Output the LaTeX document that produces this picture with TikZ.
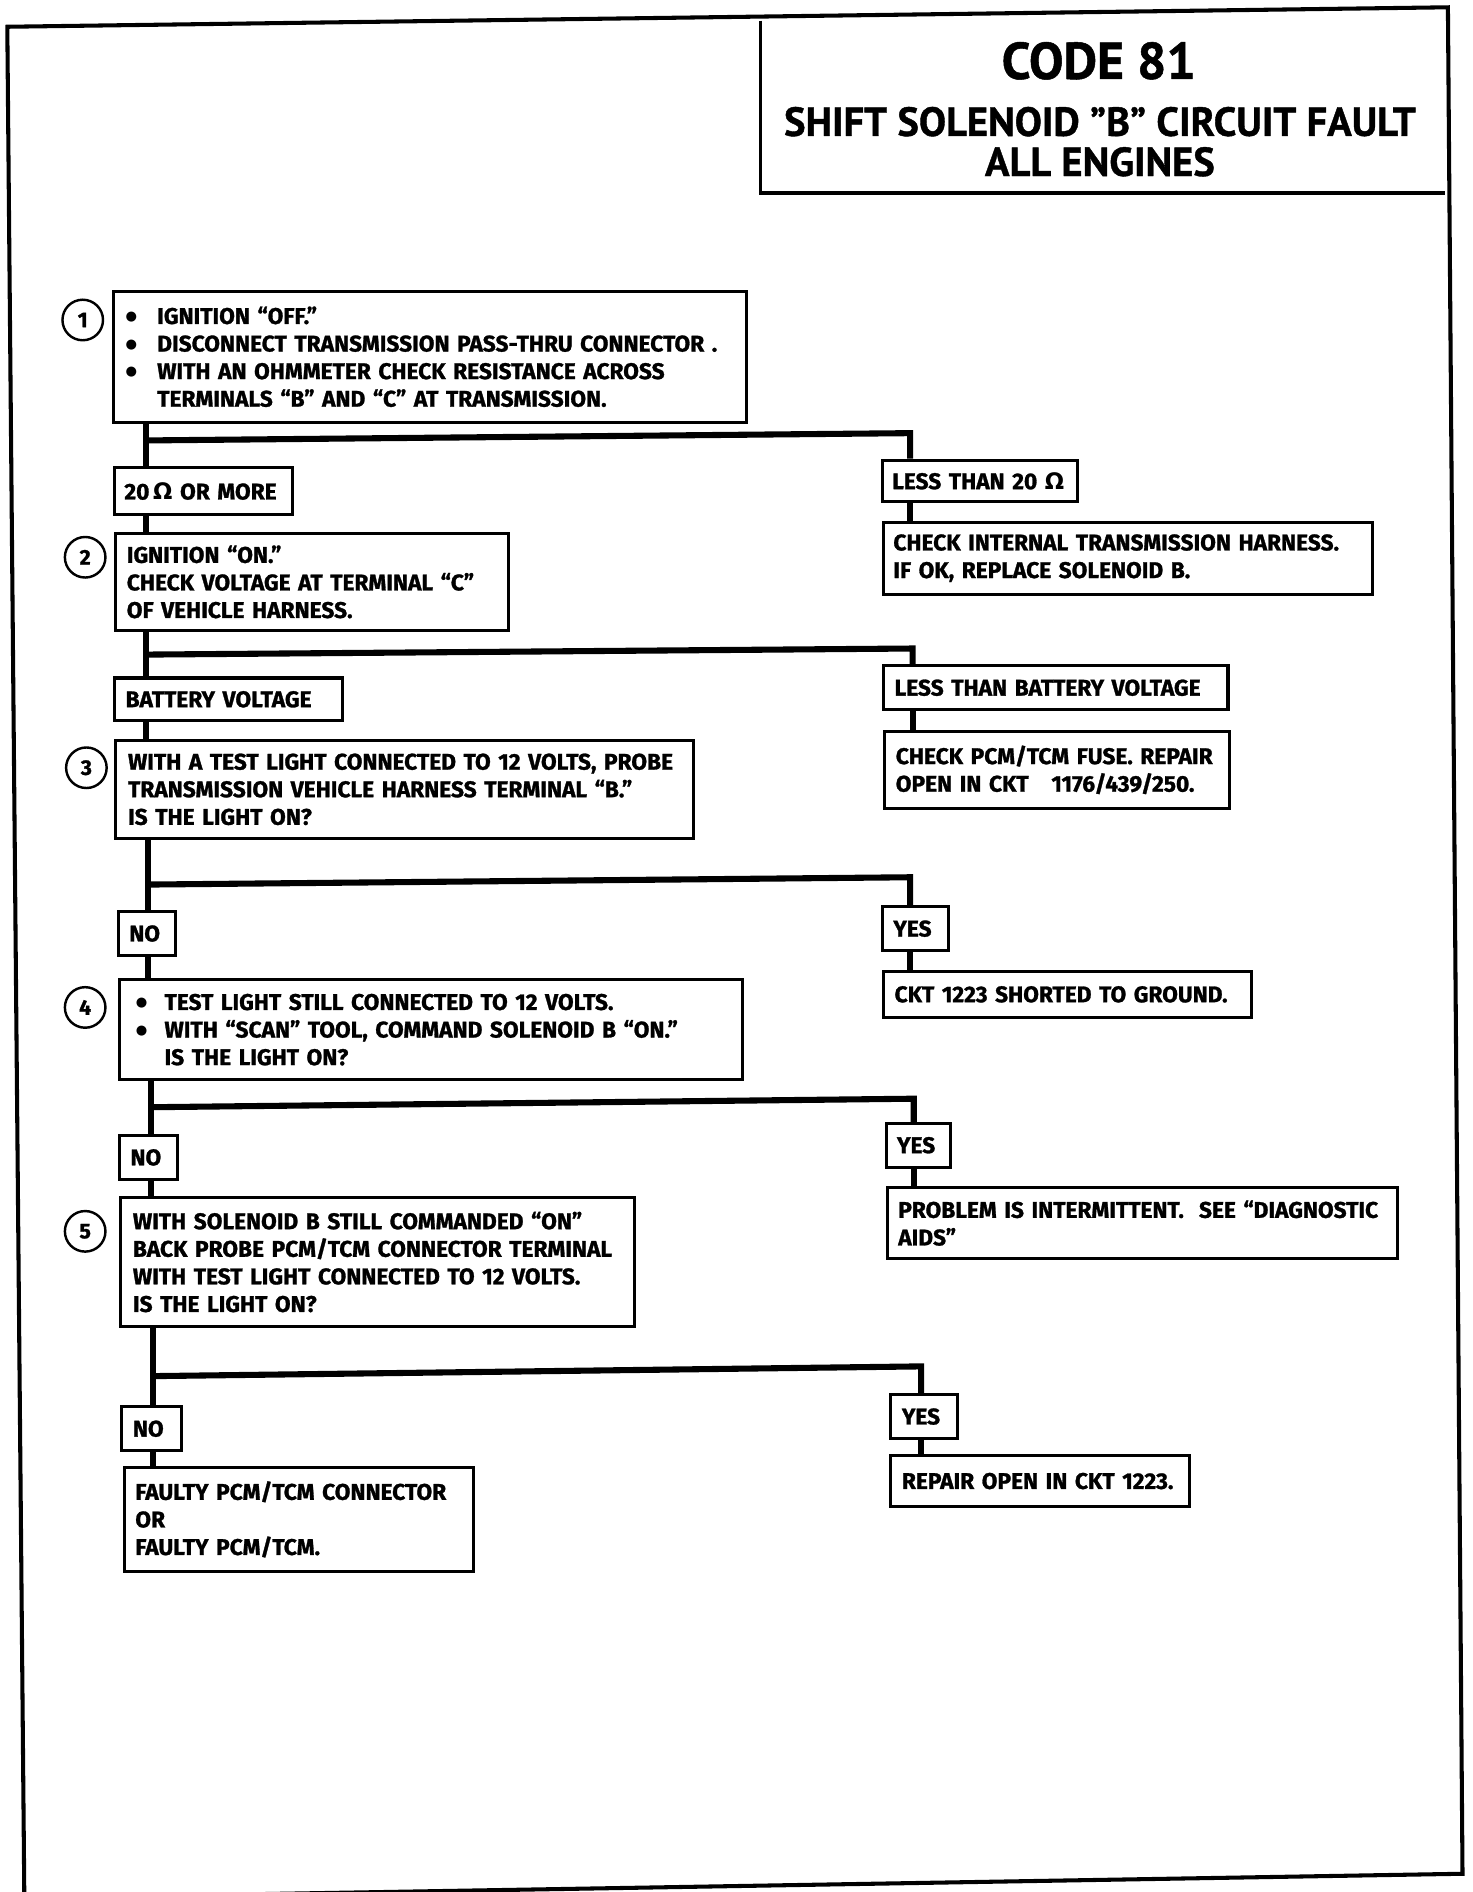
\documentclass[tikz,border=0pt]{standalone}
\usepackage{fontspec}
\setmainfont{Fira Sans}[BoldFeatures={FakeBold=1.2}]
\newfontfamily\ttlfont{PT Sans}[BoldFeatures={FakeBold=1.0}]
\newfontfamily\omf{DejaVu Sans}
\newcommand\bxfont{\fontsize{11.2}{13.6}\selectfont\bfseries}
\newcommand\OM{{\omf\bfseries Ω}}
\newcommand\bul[1]{\makebox[#1][l]{\raisebox{1.6pt}{\omf\fontsize{6.5}{6.5}\selectfont ●}}}
\tikzset{
  box/.code n args={3}{%
    \pgfmathsetmacro\bw{(#1-2*#3)*0.6}%
    \pgfmathsetmacro\bh{#2*0.6}%
    \pgfmathsetmacro\bp{#3*0.6}%
    \edef\tmp{\noexpand\pgfkeysalso{draw, line width=1.5pt, anchor=north west,
      align=left, inner ysep=0pt, inner xsep=\bp pt, text width=\bw pt,
      minimum height=\bh pt}}\tmp
    \pgfkeysalso{font=\bxfont}},
  num/.style={circle, draw, line width=1.2pt, minimum size=20pt, inner sep=0pt,
    font=\fontsize{10.5}{10}\selectfont\bfseries},
  conn/.style={line width=3pt, line join=miter},
  frame/.style={line width=2pt, line join=miter}
}
\begin{document}
\begin{tikzpicture}[x=0.6pt,y=-0.6pt]
\useasboundingbox (0,0) rectangle (1210,1555);
% outer frame
\draw[frame] (6,22) -- (1190,6) -- (1202,1540) -- (20,1560) -- cycle;
% title
\node[anchor=north west, minimum width=337pt, minimum height=84.6pt, inner sep=0pt] (ttl) at (625,17) {};
\draw[line width=1.6pt] (ttl.north west) -- (ttl.south west) -- (ttl.south east);
\node[font=\ttlfont\fontsize{25.5}{26}\selectfont\bfseries, inner sep=0pt] (ttla) at (903,50) {CODE 81};
\node[font=\ttlfont\fontsize{20}{20}\selectfont\bfseries, inner sep=0pt] (ttlb) at (904,100) {SHIFT SOLENOID ”B” CIRCUIT FAULT};
\node[font=\ttlfont\fontsize{20}{20}\selectfont\bfseries, inner sep=0pt] (ttlc) at (904,133) {ALL ENGINES};

% step 1
\node[box={520}{108}{10}] (s1) at (92,238) {\bul{15.6pt}IGNITION “OFF.”\\\bul{15.6pt}DISCONNECT TRANSMISSION PASS-THRU CONNECTOR .\\\bul{15.6pt}WITH AN OHMMETER CHECK RESISTANCE ACROSS\\\hspace*{15.6pt}TERMINALS “B” AND “C” AT TRANSMISSION.};
\node[num] (c1) at (68,263) {1};
\node[box={146}{39}{8}] (r1) at (93,383) {\mbox{20\,\OM{} OR MORE}};
\node[box={160}{34}{8}] (l1) at (724,377) {\mbox{LESS THAN 20 \OM}};
\node[box={402}{59}{8}] (a1) at (725,428) {CHECK INTERNAL TRANSMISSION HARNESS.\\IF OK, REPLACE SOLENOID B.};

% step 2
\node[box={323}{80}{9}] (s2) at (94,437) {IGNITION “ON.”\\CHECK VOLTAGE AT TERMINAL “C”\\OF VEHICLE HARNESS.};
\node[num] (c2) at (70,458) {2};
\node[box={187}{35}{9}] (r2) at (93,556) {BATTERY VOLTAGE};
\node[box={283}{36}{9}] (l2) at (725,546) {LESS THAN BATTERY VOLTAGE};
\node[box={283}{63}{9}] (a2) at (726,600) {CHECK PCM/TCM FUSE. REPAIR\\OPEN IN CKT\ \ \ 1176/439/250.};

% step 3
\node[box={475}{81}{10}] (s3) at (94,607) {WITH A TEST LIGHT CONNECTED TO 12 VOLTS, PROBE\\TRANSMISSION VEHICLE HARNESS TERMINAL “B.”\\IS THE LIGHT ON?};
\node[num] (c3) at (71,631) {3};
\node[box={47}{36}{9}] (r3) at (96,748) {NO};
\node[box={54}{36}{9}] (l3) at (724,744) {YES};
\node[box={302}{38}{9}] (a3) at (725,797) {CKT 1223 SHORTED TO GROUND.};

% step 4
\node[box={512}{82}{10}] (s4) at (97,804) {\hspace*{2pt}\bul{14.2pt}TEST LIGHT STILL CONNECTED TO 12 VOLTS.\\\hspace*{2pt}\bul{14.2pt}WITH “SCAN” TOOL, COMMAND SOLENOID B “ON.”\\\hspace*{16.2pt}IS THE LIGHT ON?};
\node[num] (c4) at (70,828) {4};
\node[box={48}{36}{9}] (r4) at (97,932) {NO};
\node[box={53}{36}{9}] (l4) at (727,922) {YES};
\node[box={419}{58}{9}] (a4) at (728,975) {PROBLEM IS INTERMITTENT.\ \ SEE “DIAGNOSTIC\\AIDS”};

% step 5
\node[box={422}{106}{10}] (s5) at (98,983) {WITH SOLENOID B STILL COMMANDED “ON”\\BACK PROBE PCM/TCM CONNECTOR TERMINAL\\WITH TEST LIGHT CONNECTED TO 12 VOLTS.\\IS THE LIGHT ON?};
\node[num] (c5) at (70,1012) {5};
\node[box={49}{36}{9}] (r5) at (99,1155) {NO};
\node[box={55}{36}{9}] (l5) at (731,1145) {YES};
\node[box={245}{42}{9}] (a5) at (731,1195) {REPAIR OPEN IN CKT 1223.};
\node[box={287}{85}{9}] (f5) at (101,1205) {FAULTY PCM/TCM CONNECTOR\\OR\\FAULTY PCM/TCM.};

% connectors
\coordinate (t1) at (120,362); \coordinate (u1) at (748,356);
\draw[conn] (s1.south -| t1) -- (r1.north -| t1);
\draw[conn] (t1) -- (u1) -- (u1 |- l1.north);
\draw[conn] (r1.south -| t1) -- (s2.north -| t1);
\draw[conn] (l1.south -| u1) -- (a1.north -| u1);

\coordinate (t2) at (120,538); \coordinate (u2) at (750,533);
\draw[conn] (s2.south -| t2) -- (r2.north -| t2);
\draw[conn] (t2) -- (u2) -- (u2 |- l2.north);
\draw[conn] (r2.south -| t2) -- (s3.north -| t2);
\draw[conn] (l2.south -| u2) -- (a2.north -| u2);

\coordinate (t3) at (122,727); \coordinate (u3) at (748,721);
\draw[conn] (s3.south -| t3) -- (r3.north -| t3);
\draw[conn] (t3) -- (u3) -- (u3 |- l3.north);
\draw[conn] (r3.south -| t3) -- (s4.north -| t3);
\draw[conn] (l3.south -| u3) -- (a3.north -| u3);

\coordinate (t4) at (124,910); \coordinate (u4) at (751,903);
\draw[conn] (s4.south -| t4) -- (r4.north -| t4);
\draw[conn] (t4) -- (u4) -- (u4 |- l4.north);
\draw[conn] (r4.south -| t4) -- (s5.north -| t4);
\draw[conn] (l4.south -| u4) -- (a4.north -| u4);

\coordinate (t5) at (126,1131); \coordinate (u5) at (757,1123);
\draw[conn] (s5.south -| t5) -- (r5.north -| t5);
\draw[conn] (t5) -- (u5) -- (u5 |- l5.north);
\draw[conn] (r5.south -| t5) -- (f5.north -| t5);
\draw[conn] (l5.south -| u5) -- (a5.north -| u5);
\end{tikzpicture}
\end{document}
